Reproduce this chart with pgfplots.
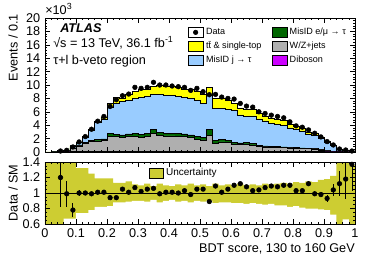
\documentclass[border=0pt]{standalone}
\usepackage{fontspec}
\setmainfont{Liberation Sans}
\usepackage{pgfplots}
\pgfplotsset{compat=1.18}
\usepackage{pgfplotstable}

\definecolor{ttcol}{RGB}{255,255,0}
\definecolor{mjcol}{RGB}{153,204,255}
\definecolor{emcol}{RGB}{0,102,0}
\definecolor{wzcol}{RGB}{175,175,175}
\definecolor{dbcol}{RGB}{204,0,255}
\definecolor{unccol}{RGB}{205,205,50}

% cumulative stack tops (thousands), left bin edges
\pgfplotstableread{
x    dib  wz   em   mj   tt
0.00 0.00 0.00 0.00 0.02 0.03
0.02 0.00 0.01 0.02 0.05 0.06
0.04 0.01 0.03 0.05 0.11 0.13
0.06 0.02 0.10 0.15 0.24 0.26
0.08 0.04 0.50 0.60 0.90 0.96
0.10 0.06 0.90 1.05 1.45 1.52
0.12 0.07 1.25 1.45 2.20 2.32
0.14 0.08 1.55 1.75 3.20 3.42
0.16 0.08 1.65 1.90 4.40 4.60
0.18 0.09 1.70 1.95 4.95 5.25
0.20 0.10 2.35 2.75 6.75 7.20
0.22 0.10 2.30 2.65 7.25 8.20
0.24 0.10 2.20 2.55 7.50 8.05
0.26 0.12 2.35 2.70 7.75 8.60
0.28 0.12 2.30 2.75 8.00 9.05
0.30 0.12 2.15 2.60 8.20 9.30
0.32 0.12 2.35 2.80 8.30 9.35
0.34 0.12 2.75 3.40 8.65 9.85
0.36 0.12 2.50 2.95 8.60 10.00
0.38 0.12 2.40 2.80 8.50 9.85
0.40 0.12 2.40 2.80 8.40 9.75
0.42 0.12 2.35 2.75 8.35 9.70
0.44 0.12 2.30 2.70 8.15 9.40
0.46 0.12 2.15 2.55 8.00 9.35
0.48 0.12 1.90 2.35 7.75 9.05
0.50 0.12 1.80 2.20 7.25 8.60
0.52 0.12 2.45 3.35 8.50 9.60
0.54 0.12 1.30 1.70 6.50 7.95
0.56 0.12 1.50 1.85 6.50 8.05
0.58 0.12 1.40 1.75 6.35 7.65
0.60 0.12 1.20 1.45 6.20 7.20
0.62 0.11 1.15 1.35 5.55 6.60
0.64 0.11 1.20 1.40 5.30 6.40
0.66 0.10 1.05 1.25 5.40 6.45
0.68 0.10 0.80 0.95 4.95 5.80
0.70 0.10 0.75 0.90 4.65 5.40
0.72 0.08 0.70 0.85 4.30 5.10
0.74 0.08 0.70 0.80 4.15 4.95
0.76 0.08 0.65 0.75 4.00 4.70
0.78 0.07 0.60 0.70 3.60 4.15
0.80 0.07 0.55 0.65 3.40 3.85
0.82 0.06 0.50 0.60 3.15 3.60
0.84 0.06 0.50 0.55 2.65 3.00
0.86 0.05 0.45 0.50 2.50 2.85
0.88 0.04 0.30 0.35 2.00 2.27
0.90 0.03 0.15 0.20 1.50 1.67
0.92 0.02 0.10 0.12 0.95 1.01
0.94 0.01 0.05 0.06 0.38 0.40
0.96 0.01 0.03 0.04 0.24 0.25
0.98 0.00 0.01 0.02 0.10 0.11
1.00 0.00 0.01 0.02 0.10 0.11
}\stack

\pgfplotstableread{
x    y     ey
0.05 0.15  0.012
0.07 0.25  0.016
0.09 0.75  0.027
0.11 1.50  0.039
0.13 2.30  0.048
0.15 3.40  0.058
0.17 4.60  0.068
0.19 5.30  0.073
0.21 6.80  0.082
0.23 7.80  0.088
0.25 8.40  0.092
0.27 8.65  0.093
0.29 9.65  0.098
0.31 9.50  0.097
0.33 9.65  0.098
0.35 10.40 0.102
0.37 10.00 0.100
0.39 10.00 0.100
0.41 9.85  0.099
0.43 9.75  0.099
0.45 9.65  0.098
0.47 9.20  0.096
0.49 9.50  0.097
0.51 9.00  0.095
0.53 8.55  0.092
0.55 8.60  0.093
0.57 8.20  0.091
0.59 8.00  0.089
0.61 7.90  0.089
0.63 7.25  0.085
0.65 6.85  0.083
0.67 6.70  0.082
0.69 6.00  0.077
0.71 5.75  0.076
0.73 5.50  0.074
0.75 5.30  0.073
0.77 5.10  0.071
0.79 4.50  0.067
0.81 3.90  0.062
0.83 3.70  0.061
0.85 3.30  0.057
0.87 2.80  0.053
0.89 2.25  0.047
0.91 1.55  0.039
0.93 1.05  0.032
0.95 0.45  0.021
0.97 0.30  0.017
0.99 0.15  0.012
}\data

\pgfplotstableread{
x    r    er
0.05 1.20 0.38
0.07 0.99 0.17
0.09 0.78 0.09
0.11 1.00 0.04
0.13 1.00 0.03
0.15 0.99 0.025
0.17 1.01 0.02
0.19 1.01 0.02
0.21 0.94 0.02
0.23 0.94 0.02
0.25 1.05 0.02
0.27 1.01 0.02
0.29 1.07 0.02
0.31 1.02 0.02
0.33 1.05 0.02
0.35 1.06 0.02
0.37 0.99 0.02
0.39 1.01 0.02
0.41 1.01 0.02
0.43 1.00 0.02
0.45 1.03 0.02
0.47 0.98 0.02
0.49 1.05 0.02
0.51 1.05 0.02
0.53 0.89 0.02
0.55 1.09 0.02
0.57 1.01 0.02
0.59 1.05 0.02
0.61 1.10 0.02
0.63 1.12 0.02
0.65 1.08 0.02
0.67 1.03 0.02
0.69 1.04 0.02
0.71 1.07 0.02
0.73 1.09 0.02
0.75 1.08 0.02
0.77 1.10 0.02
0.79 1.10 0.02
0.81 1.03 0.02
0.83 1.03 0.02
0.85 1.12 0.02
0.87 0.99 0.025
0.89 0.98 0.03
0.91 0.93 0.05
0.93 1.04 0.08
0.95 1.12 0.16
0.97 1.18 0.26
0.99 1.37 0.35
}\ratio

\pgfplotstableread{
x    up   lo
0.00 1.60 0.40
0.02 1.60 0.40
0.04 1.60 0.40
0.06 1.60 0.67
0.08 1.60 0.67
0.10 1.32 0.74
0.12 1.32 0.74
0.14 1.25 0.78
0.16 1.19 0.82
0.18 1.19 0.82
0.20 1.19 0.83
0.22 1.13 0.88
0.24 1.13 0.88
0.26 1.15 0.89
0.28 1.11 0.90
0.30 1.10 0.90
0.32 1.12 0.89
0.34 1.09 0.91
0.36 1.12 0.88
0.38 1.10 0.90
0.40 1.09 0.91
0.42 1.11 0.89
0.44 1.10 0.90
0.46 1.12 0.88
0.48 1.10 0.90
0.50 1.11 0.89
0.52 1.09 0.90
0.54 1.12 0.87
0.56 1.10 0.88
0.58 1.11 0.88
0.60 1.10 0.87
0.62 1.12 0.87
0.64 1.10 0.86
0.66 1.11 0.87
0.68 1.10 0.86
0.70 1.12 0.85
0.72 1.11 0.86
0.74 1.12 0.84
0.76 1.13 0.84
0.78 1.12 0.82
0.80 1.14 0.83
0.82 1.13 0.81
0.84 1.15 0.80
0.86 1.14 0.80
0.88 1.17 0.79
0.90 1.18 0.78
0.92 1.22 0.72
0.94 1.60 0.40
0.96 1.60 0.66
0.98 1.36 0.40
1.00 1.36 0.40
}\band

\pgfplotsset{
  atlas/.style={
    scale only axis, width=232.5pt, xmin=0, xmax=1,
    tick pos=both, tick align=inside,
    major tick length=3.6pt, minor tick length=1.8pt,
    minor x tick num=4,
    axis on top,
    every tick/.style={black, line width=0.4pt},
    axis line style={line width=0.5pt},
    every tick label/.append style={font=\fontsize{9.5}{11}\selectfont},
    yticklabel style={inner ysep=0pt},
    /pgf/number format/assume math mode=true,
    xtick={0,0.1,0.2,0.3,0.4,0.5,0.6,0.7,0.8,0.9,1},
  },
  hist/.style={const plot mark left, draw=black, line width=0.4pt, forget plot},
}

\begin{document}
\begin{tikzpicture}
\useasboundingbox (-33.75pt,-87pt) rectangle (246.75pt,114pt);

\begin{axis}[atlas, name=top, at={(0,0)}, anchor=south west,
  height=100.5pt, ymin=0, ymax=20,
  ytick={0,2,...,20}, minor y tick num=4,
  xticklabels={},
  legend cell align=left,
  legend style={at={(rel axis cs:0.461,0.935)}, anchor=north west,
    draw=none, fill=none, inner sep=0pt, outer sep=0pt,
    font=\fontsize{6.8}{8}\selectfont, legend columns=2, row sep=2pt,
    nodes={text height=5pt, text depth=1.5pt, inner xsep=2pt, inner ysep=1pt},
    /tikz/every even column/.append style={column sep=5.5pt}},
]
\addplot[hist, fill=ttcol] table[x=x,y=tt]{\stack} \closedcycle;
\addplot[hist, fill=mjcol] table[x=x,y=mj]{\stack} \closedcycle;
\addplot[hist, fill=emcol] table[x=x,y=em]{\stack} \closedcycle;
\addplot[hist, fill=wzcol] table[x=x,y=wz]{\stack} \closedcycle;
\addplot[hist, fill=dbcol] table[x=x,y=dib]{\stack} \closedcycle;
\addplot[only marks, mark=*, mark size=1.75pt, black, forget plot,
  error bars/.cd, y dir=both, y explicit, error mark=none,
  error bar style={line width=0.6pt}]
  table[x=x, y=y, y error=ey]{\data};

\addlegendimage{legend image code/.code={\path (0pt,-3.6pt) rectangle (11.25pt,3.6pt); \fill[black] (5.6pt,0pt) circle (1.7pt);}}
\addlegendentry{Data}
\addlegendimage{legend image code/.code={\draw[fill=emcol, draw=black, line width=0.4pt] (0pt,-3.6pt) rectangle (11.25pt,3.6pt);}}
\addlegendentry{MisID e/μ → τ}
\addlegendimage{legend image code/.code={\draw[fill=ttcol, draw=black, line width=0.4pt] (0pt,-3.6pt) rectangle (11.25pt,3.6pt);}}
\addlegendentry{t\={t} \& single-top}
\addlegendimage{legend image code/.code={\draw[fill=wzcol, draw=black, line width=0.4pt] (0pt,-3.6pt) rectangle (11.25pt,3.6pt);}}
\addlegendentry{W/Z+jets}
\addlegendimage{legend image code/.code={\draw[fill=mjcol, draw=black, line width=0.4pt] (0pt,-3.6pt) rectangle (11.25pt,3.6pt);}}
\addlegendentry{MisID j → τ}
\addlegendimage{legend image code/.code={\draw[fill=dbcol, draw=black, line width=0.4pt] (0pt,-3.6pt) rectangle (11.25pt,3.6pt);}}
\addlegendentry{Diboson}
\end{axis}

\begin{axis}[atlas, name=bot, at={(0,-7.5pt)}, anchor=north west,
  height=46.5pt, ymin=0.6, ymax=1.4,
  ytick={0.6,0.8,1,1.2,1.4}, yticklabels={0.6,0.8,1,1.2,1.4},
  minor y tick num=3,
  xticklabels={0,0.1,0.2,0.3,0.4,0.5,0.6,0.7,0.8,0.9,1},
  legend cell align=left,
  legend style={at={(rel axis cs:0.335,0.915)}, anchor=north west,
    draw=none, fill=none, inner sep=0pt, outer sep=0pt,
    font=\fontsize{7.5}{9}\selectfont,
    nodes={text height=5.5pt, text depth=1.5pt, inner xsep=2pt, inner ysep=1pt}},
]
\addplot[const plot mark left, draw=none, fill=unccol, forget plot] table[x=x,y=up]{\band} \closedcycle;
\addplot[const plot mark left, draw=none, fill=white, forget plot] table[x=x,y=lo]{\band} \closedcycle;
\addplot[black, line width=0.5pt, forget plot] coordinates {(0,1) (1,1)};
\addplot[only marks, mark=*, mark size=1.75pt, black, forget plot,
  error bars/.cd, y dir=both, y explicit, error mark=none,
  error bar style={line width=0.6pt}]
  table[x=x, y=r, y error=er]{\ratio};
\addlegendimage{legend image code/.code={\draw[fill=unccol, draw=black, line width=0.4pt] (0pt,-3.6pt) rectangle (10.5pt,3.6pt);}}
\addlegendentry{Uncertainty}
\end{axis}

\node[anchor=base west, inner sep=0, font=\fontsize{9.5}{11}\selectfont] at ([yshift=2.5pt]top.north west) {×10\textsuperscript{3}};
\node[anchor=base west, inner sep=0, font=\fontsize{9.5}{11}\selectfont\bfseries\itshape] at ([xshift=11.25pt, yshift=-10.5pt]top.north west) {ATLAS};
\node[anchor=base west, inner sep=0, font=\fontsize{9.5}{11}\selectfont] at ([xshift=6pt, yshift=-22pt]top.north west) {√s = 13 TeV, 36.1 fb\textsuperscript{-1}};
\node[anchor=base west, inner sep=0, font=\fontsize{9.5}{11}\selectfont] at ([xshift=6pt, yshift=-34.5pt]top.north west) {τ+l b-veto region};
\path (top.north west) ++(-24pt,3pt) node[rotate=90, anchor=east, inner sep=0, font=\fontsize{9.5}{11}\selectfont] {Events / 0.1};
\path (bot.west) ++(-24pt,0pt) node[rotate=90, anchor=center, inner sep=0, font=\fontsize{9.5}{11}\selectfont] {Data / SM};
\node[anchor=north east, inner sep=0, font=\fontsize{9.5}{11}\selectfont] at ([yshift=-14.25pt]bot.south east) {BDT score, 130 to 160 GeV};
\end{tikzpicture}
\end{document}
